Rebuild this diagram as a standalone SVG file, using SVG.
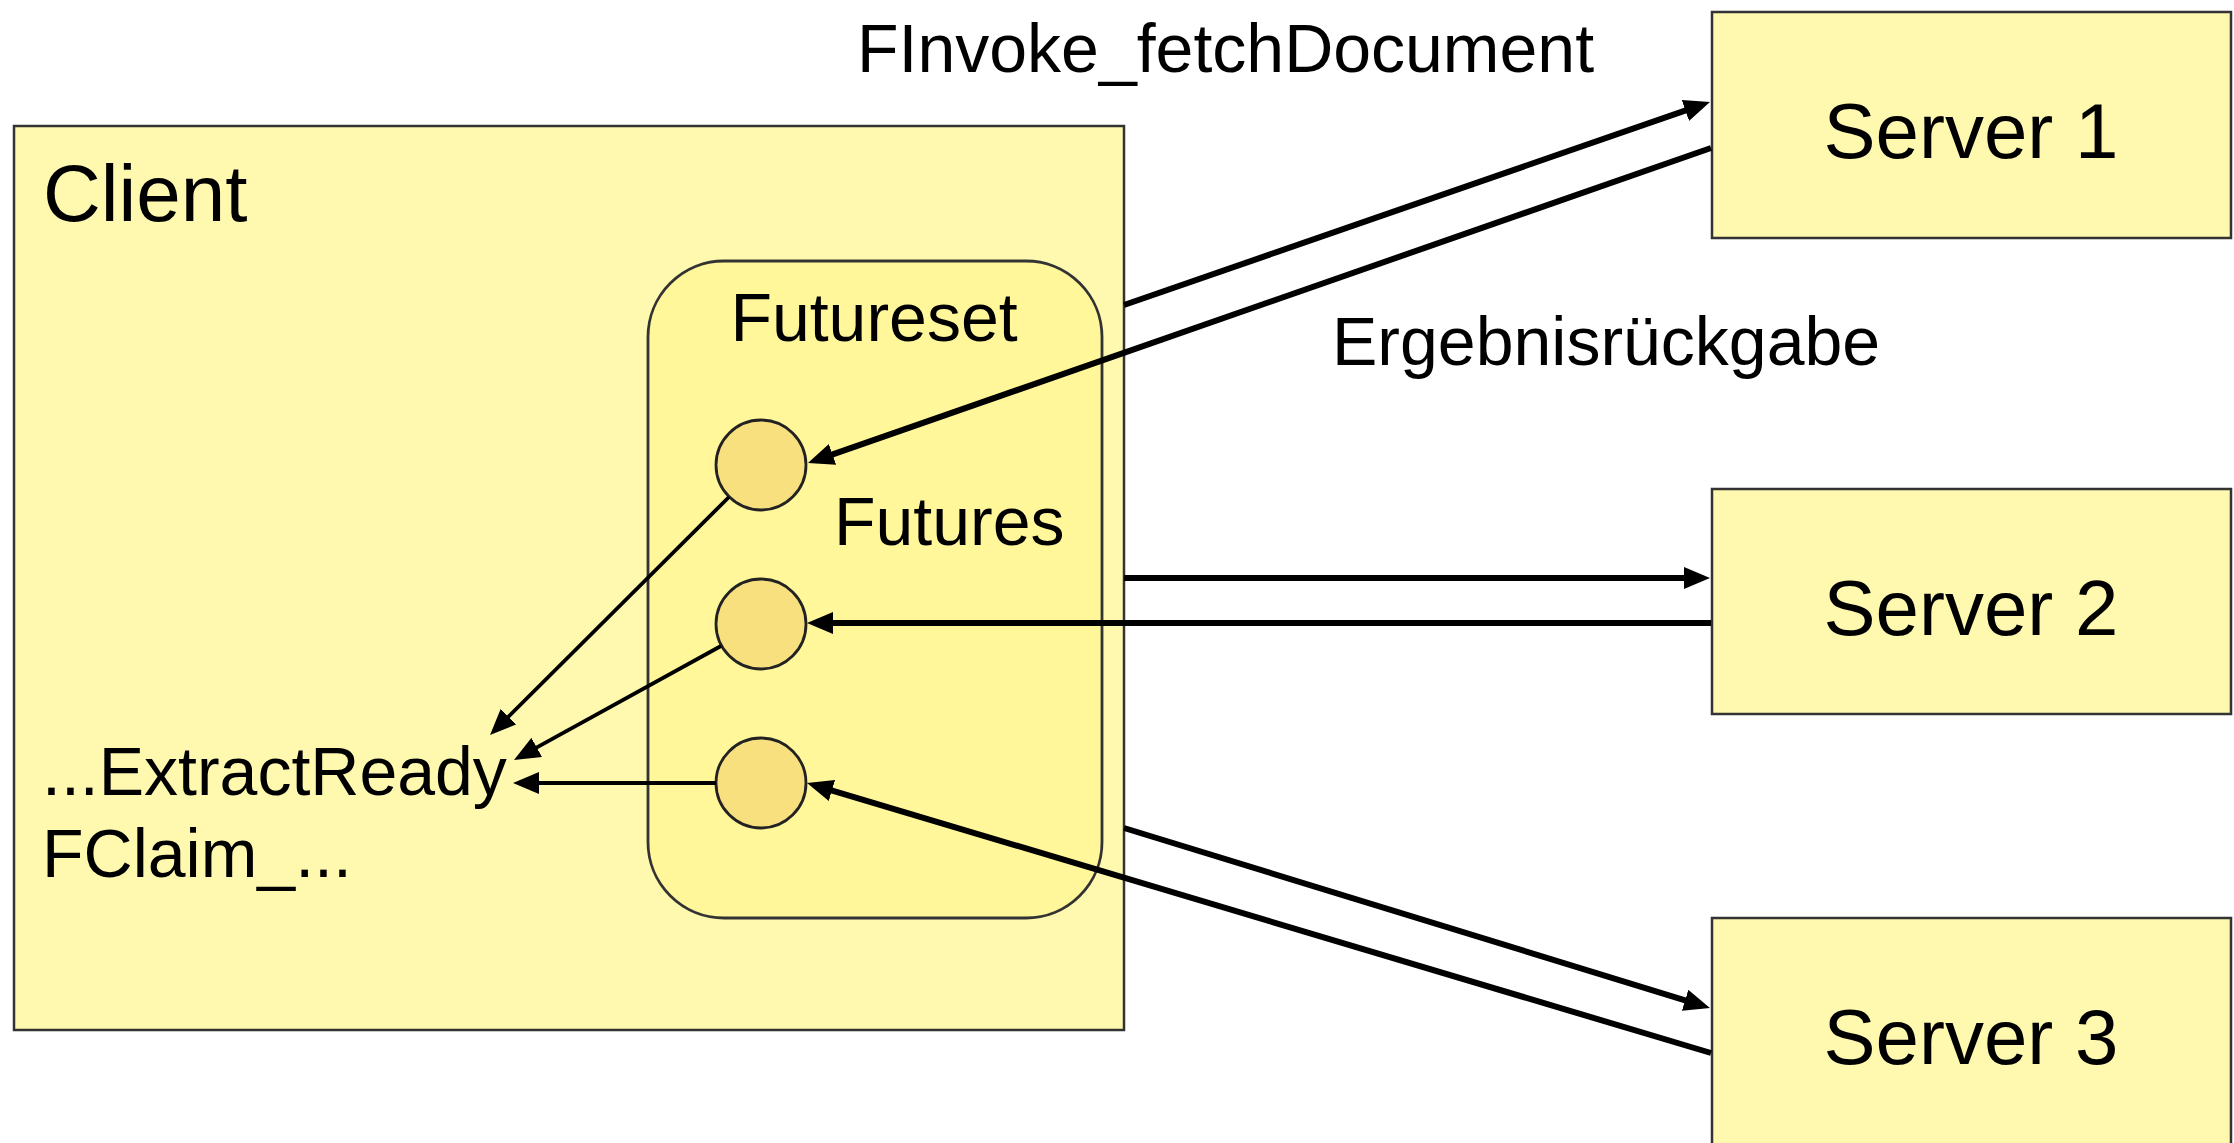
<svg xmlns="http://www.w3.org/2000/svg" width="2234" height="1143" viewBox="0 0 2234 1143">
  <style>
    text { font-family: "Liberation Sans", Arial, Helvetica, sans-serif; fill: #000; }
    .box { fill: #FFF9B0; stroke: #333; stroke-width: 2.5; }
    .set { fill: #FFF79A; stroke: #333; stroke-width: 2.8; }
    .future { fill: #F8E07F; stroke: #222; stroke-width: 2.8; }
    .lbl { font-size: 68px; }
    .big { font-size: 80px; }
    .srv { font-size: 78px; text-anchor: middle; }
    .thick { stroke: #000; stroke-width: 6; fill: none; marker-end: url(#head); }
    .thin { stroke: #000; stroke-width: 3.8; fill: none; marker-end: url(#head); }
  </style>
  <defs>
    <marker id="head" viewBox="0 0 26 22" markerWidth="26" markerHeight="22" refX="18" refY="11" orient="auto" markerUnits="userSpaceOnUse">
      <path d="M0,0 L26,11 L0,22 z" fill="#000"/>
    </marker>
  </defs>

  <rect width="2234" height="1143" fill="#FFFFFF"/>

  <!-- client process with its future set -->
  <g id="client">
    <rect class="box" x="14" y="126" width="1110" height="904"/>
    <text class="big" x="43" y="221">Client</text>
    <text class="lbl" x="42" y="795">...ExtractReady</text>
    <text class="lbl" x="42" y="877">FClaim_...</text>
  </g>

  <g id="futureset">
    <rect class="set" x="648" y="261" width="454" height="657" rx="76" ry="76"/>
    <text class="lbl" x="874" y="341" text-anchor="middle">Futureset</text>
    <text class="lbl" x="834" y="545">Futures</text>
  </g>

  <g id="future1"><circle class="future" cx="761" cy="465" r="45"/></g>
  <g id="future2"><circle class="future" cx="761" cy="624" r="45"/></g>
  <g id="future3"><circle class="future" cx="761" cy="783" r="45"/></g>

  <!-- servers -->
  <g id="server1">
    <rect class="box" x="1712" y="12" width="519" height="226"/>
    <text class="srv" x="1971" y="158">Server 1</text>
  </g>
  <g id="server2">
    <rect class="box" x="1712" y="489" width="519" height="225"/>
    <text class="srv" x="1971" y="635">Server 2</text>
  </g>
  <g id="server3">
    <rect class="box" x="1712" y="918" width="519" height="230"/>
    <text class="srv" x="1971" y="1064">Server 3</text>
  </g>

  <!-- free labels -->
  <g id="labels">
    <text class="lbl" x="857" y="72">FInvoke_fetchDocument</text>
    <text class="lbl" x="1332" y="365">Ergebnisrückgabe</text>
  </g>

  <!-- calls, result returns and claims -->
  <g id="connectors">
    <line class="thick" x1="1124" y1="305" x2="1702.4" y2="104.6"/>
    <line class="thick" x1="1711" y1="148" x2="815.5" y2="460.4"/>
    <line class="thick" x1="1124" y1="578" x2="1702" y2="578"/>
    <line class="thick" x1="1711" y1="623" x2="815" y2="623"/>
    <line class="thick" x1="1124" y1="828" x2="1702.3" y2="1005.6"/>
    <line class="thick" x1="1711" y1="1053" x2="814.7" y2="785.3"/>

    <line class="thin" x1="729" y1="497" x2="495.7" y2="729.4"/>
    <line class="thin" x1="721" y1="646" x2="521" y2="756.1"/>
    <line class="thin" x1="716" y1="783" x2="521" y2="783"/>
  </g>
</svg>
